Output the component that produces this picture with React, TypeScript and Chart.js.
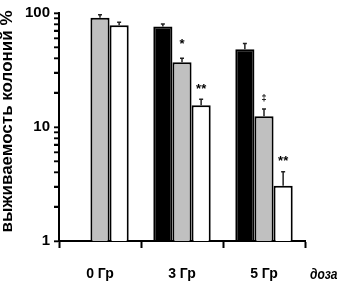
import React, { useEffect, useRef } from 'react';
import { Chart, registerables } from 'chart.js';

Chart.register(...registerables);

const categories = ['0 Гр', '3 Гр', '5 Гр'];
const blackValues: (number | null)[] = [null, 76, 48];
const grayValues: (number | null)[] = [91, 37, 12.4];
const whiteValues: (number | null)[] = [78, 15.5, 3.05];
const blackErr: (number | null)[] = [null, 4, 6];
const grayErr: (number | null)[] = [5.5, 3, 2];
const whiteErr: (number | null)[] = [5, 2, 1];
const blackMarks = ['', '', ''];
const grayMarks = ['', '*', '‡'];
const whiteMarks = ['', '**', '**'];
const majorTicks = [1, 10, 100];
const allTicks = [1, 2, 3, 4, 5, 6, 7, 8, 9, 10, 20, 30, 40, 50, 60, 70, 80, 90, 100];
const yTitle = 'выживаемость колоний %';
const xTitle = 'доза';

const errs = [blackErr, grayErr, whiteErr];
const marks = [blackMarks, grayMarks, whiteMarks];

const FONT = '"Liberation Sans", Arial, sans-serif';

const extrasPlugin = {
  id: 'extras',
  afterDraw(chart: any) {
    const ctx = chart.ctx;
    const y = chart.scales.y;
    const area = chart.chartArea;
    ctx.save();
    chart.data.datasets.forEach((ds: any, di: number) => {
      const meta = chart.getDatasetMeta(di);
      meta.data.forEach((bar: any, i: number) => {
        const v = ds.data[i];
        const e = errs[di][i];
        if (v == null || e == null) return;
        const x = bar.x;
        const yTop = y.getPixelForValue(v);
        const yErr = y.getPixelForValue(v + e);
        ctx.strokeStyle = '#222';
        ctx.lineWidth = 1.5;
        ctx.beginPath();
        ctx.moveTo(x, yTop);
        ctx.lineTo(x, yErr);
        ctx.moveTo(x - 2, yErr);
        ctx.lineTo(x + 2, yErr);
        ctx.stroke();
        const m = marks[di][i];
        if (m) {
          ctx.fillStyle = '#000';
          ctx.font = m === '‡' ? 'bold 9px ' + FONT : 'bold 13px ' + FONT;
          ctx.textAlign = 'center';
          ctx.textBaseline = 'middle';
          ctx.fillText(m, x, yErr - (m === '*' ? 14 : 10));
        }
      });
    });
    // y tick marks (major and minor)
    ctx.strokeStyle = '#000';
    ctx.lineWidth = 1.5;
    ctx.beginPath();
    allTicks.forEach((v) => {
      const py = Math.round(y.getPixelForValue(v)) + 0.25;
      ctx.moveTo(area.left - 5, py);
      ctx.lineTo(area.left, py);
    });
    ctx.stroke();
    // x-axis title
    ctx.fillStyle = '#000';
    ctx.font = 'italic bold 15px ' + FONT;
    ctx.textAlign = 'left';
    ctx.textBaseline = 'middle';
    ctx.save();
    ctx.translate(area.right + 5, 275);
    ctx.scale(0.8, 1);
    ctx.fillText(xTitle, 0, 0);
    ctx.restore();
    // y-axis title
    ctx.save();
    ctx.translate(7, 121.5);
    ctx.rotate(-Math.PI / 2);
    ctx.font = 'bold 17px ' + FONT;
    ctx.textAlign = 'center';
    ctx.textBaseline = 'middle';
    ctx.fillText(yTitle, 0, 0);
    ctx.restore();
    ctx.restore();
  },
};

export default function App() {
  const ref = useRef<HTMLCanvasElement | null>(null);
  useEffect(() => {
    if (!ref.current) return;
    const chart = new Chart(ref.current, {
      type: 'bar',
      data: {
        labels: categories,
        datasets: [
          { data: blackValues as any, backgroundColor: '#000', borderColor: '#000', borderWidth: 2 },
          { data: grayValues as any, backgroundColor: '#c0c0c0', borderColor: '#000', borderWidth: 2 },
          { data: whiteValues as any, backgroundColor: '#fff', borderColor: '#000', borderWidth: 2 },
        ],
      },
      options: {
        animation: false,
        responsive: false,
        devicePixelRatio: 1,
        layout: { padding: { top: 11, right: 34, left: 0, bottom: 0 } },
        plugins: { legend: { display: false }, tooltip: { enabled: false } },
        datasets: { bar: { categoryPercentage: 0.7, barPercentage: 1.0, borderSkipped: 'start' } },
        scales: {
          x: {
            offset: true,
            grid: { offset: true, drawOnChartArea: false, drawTicks: true, tickLength: 7, tickColor: '#000', tickWidth: 2 },
            border: { display: true, color: '#000', width: 2 },
            ticks: { color: '#000', padding: 18, font: { family: FONT, size: 14, weight: 'bold' } },
            afterFit: (s: any) => { s.height = 43; },
          },
          y: {
            type: 'logarithmic',
            min: 1,
            max: 100,
            grid: { drawOnChartArea: false, drawTicks: true, tickLength: 5, tickColor: '#000', tickWidth: 1.5 },
            border: { display: true, color: '#000', width: 2 },
            afterBuildTicks: (s: any) => { s.ticks = allTicks.map((v) => ({ value: v, major: majorTicks.includes(v) })); },
            ticks: {
              color: '#000',
              padding: 4,
              autoSkip: false,
              font: { family: FONT, size: 15, weight: 'bold' },
              callback: (v: any) => (majorTicks.includes(Number(v)) ? String(v) : ''),
            },
            afterFit: (s: any) => { s.width = 59; },
          },
        },
      },
      plugins: [extrasPlugin],
    });
    return () => chart.destroy();
  }, []);
  return (
    <div style={{ position: 'fixed', left: 0, top: 0, width: 339, height: 284, background: '#fff' }}>
      <canvas ref={ref} width={339} height={284} style={{ width: 339, height: 284 }} />
    </div>
  );
}
